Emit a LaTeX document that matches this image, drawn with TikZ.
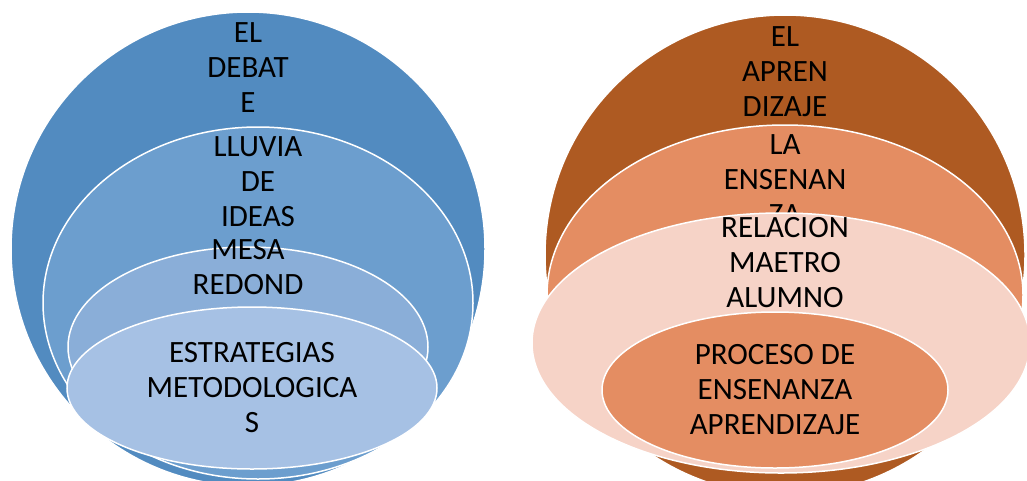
\documentclass[tikz,border=0pt]{standalone}
\usepackage{fontspec}
\setmainfont{Carlito}
\usepackage{tikz}
\usetikzlibrary{shapes.geometric}
\usepackage{xcolor}

\definecolor{blueA}{HTML}{528BC0}
\definecolor{blueB}{HTML}{6C9ECE}
\definecolor{blueC}{HTML}{8AAED8}
\definecolor{blueD}{HTML}{A6C1E4}
\definecolor{brownA}{HTML}{AE5A22}
\definecolor{brownB}{HTML}{E48D62}
\definecolor{brownC}{HTML}{F6D3C7}

\begin{document}
\begin{tikzpicture}[x=1pt,y=-1pt,
  ring/.style={ellipse,draw=white,line width=1.5pt,inner sep=0pt},
  lbl/.style={inner sep=0pt,align=center,font=\fontsize{31}{35}\selectfont}]

  \clip (0,0) rectangle (1027,480);
  \useasboundingbox (0,0) rectangle (1027,480);

  \begin{scope}
    % left set
    \node[ring,fill=blueA,minimum width=474pt,minimum height=474pt] (debate) at (248,249) {};
    \node[lbl] (debatetxt) at (248,68) {EL\\DEBAT\\E};
    \node[ring,fill=blueB,minimum width=430pt,minimum height=352pt] (lluvia) at (258,303) {};
    \node[lbl] (lluviatxt) at (258,182) {LLUVIA\\DE\\IDEAS};
    \node[ring,fill=blueC,minimum width=360pt,minimum height=200pt] (mesa) at (248,347) {};
    \node[lbl] (mesatxt) at (248,267) {MESA\\REDOND};
    \node[ring,fill=blueD,minimum width=370pt,minimum height=162pt] (estrat) at (252,388) {};
    \node[lbl] (estrattxt) at (252,388) {ESTRATEGIAS\\METODOLOGICA\\S};
  \end{scope}

  \begin{scope}
    % right set
    \node[ring,fill=brownA,minimum width=480pt,minimum height=480pt] (aprend) at (785,255) {};
    \node[lbl] (aprendtxt) at (785,72) {EL\\APREN\\DIZAJE};
    \node[ring,fill=brownB,minimum width=476pt,minimum height=340pt] (ensen) at (785,295) {};
    \node[lbl] (ensentxt) at (785,180) {LA\\ENSENAN\\ZA};
    \node[ring,fill=brownC,minimum width=498pt,minimum height=260pt] (relac) at (781,343) {};
    \node[lbl] (relactxt) at (785,263) {RELACION\\MAETRO\\ALUMNO};
    \node[ring,fill=brownB,minimum width=346pt,minimum height=156pt] (proceso) at (775,390) {};
    \node[lbl] (procesotxt) at (775,390) {PROCESO DE\\ENSENANZA\\APRENDIZAJE};
  \end{scope}

\end{tikzpicture}
\end{document}
